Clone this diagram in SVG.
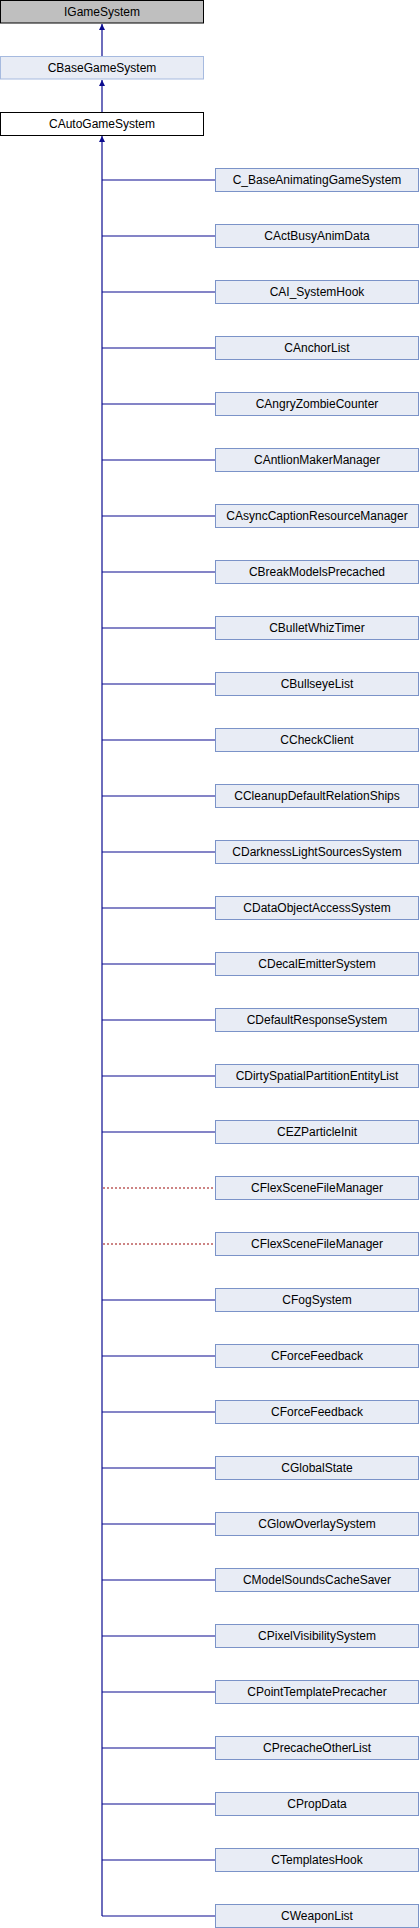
<svg xmlns="http://www.w3.org/2000/svg" width="420" height="1928" viewBox="0 0 420 1928">
<style>
text{font-family:"Liberation Sans",Arial,sans-serif;font-size:12px;fill:#000;text-anchor:middle}
.n{fill:#e8ecf5;stroke:#7b93c8;stroke-width:1}
.base{fill:#e8ecf5;stroke:#a6badf;stroke-width:1}
.top{fill:#bfbfbf;stroke:#000;stroke-width:1}
.auto{fill:#fff;stroke:#000;stroke-width:1}
.e{stroke:#0b0b8f;stroke-width:1.2;fill:none}
.p{stroke:#9b0a0a;stroke-width:1.2;fill:none;stroke-dasharray:2,2}
</style>
<defs>
<marker id="ah" viewBox="0 0 10 10" refX="10" refY="5" markerWidth="6" markerHeight="6" markerUnits="userSpaceOnUse" orient="auto">
<path d="M0,0 L10,5 L0,10 z" fill="#0b0b8f"/>
</marker>
</defs>
<g id="connectors">
<path class="e" d="M102,56 V24" marker-end="url(#ah)"/>
<path class="e" d="M102,112 V80" marker-end="url(#ah)"/>
<path class="e" d="M102,1916 V136" marker-end="url(#ah)"/>
<path class="e" d="M102,180H215M102,236H215M102,292H215M102,348H215M102,404H215M102,460H215M102,516H215M102,572H215M102,628H215M102,684H215M102,740H215M102,796H215M102,852H215M102,908H215M102,964H215M102,1020H215M102,1076H215M102,1132H215M102,1300H215M102,1356H215M102,1412H215M102,1468H215M102,1524H215M102,1580H215M102,1636H215M102,1692H215M102,1748H215M102,1804H215M102,1860H215M102,1916H215"/>
<path class="p" d="M103,1188H215M103,1244H215"/>
</g>
<g id="IGameSystem"><rect class="top" x="0.5" y="0.5" width="203" height="22.5"/><text x="102" y="16">IGameSystem</text></g>
<g id="CBaseGameSystem"><rect class="base" x="0.5" y="56.5" width="203" height="22.5"/><text x="102" y="72">CBaseGameSystem</text></g>
<g id="CAutoGameSystem"><rect class="auto" x="0.5" y="112.5" width="203" height="23"/><text x="102" y="128">CAutoGameSystem</text></g>
<g id="n0"><rect class="n" x="215.5" y="168.5" width="203" height="23"/><text x="317" y="184">C_BaseAnimatingGameSystem</text></g>
<g id="n1"><rect class="n" x="215.5" y="224.5" width="203" height="23"/><text x="317" y="240">CActBusyAnimData</text></g>
<g id="n2"><rect class="n" x="215.5" y="280.5" width="203" height="23"/><text x="317" y="296">CAI_SystemHook</text></g>
<g id="n3"><rect class="n" x="215.5" y="336.5" width="203" height="23"/><text x="317" y="352">CAnchorList</text></g>
<g id="n4"><rect class="n" x="215.5" y="392.5" width="203" height="23"/><text x="317" y="408">CAngryZombieCounter</text></g>
<g id="n5"><rect class="n" x="215.5" y="448.5" width="203" height="23"/><text x="317" y="464">CAntlionMakerManager</text></g>
<g id="n6"><rect class="n" x="215.5" y="504.5" width="203" height="23"/><text x="317" y="520">CAsyncCaptionResourceManager</text></g>
<g id="n7"><rect class="n" x="215.5" y="560.5" width="203" height="23"/><text x="317" y="576">CBreakModelsPrecached</text></g>
<g id="n8"><rect class="n" x="215.5" y="616.5" width="203" height="23"/><text x="317" y="632">CBulletWhizTimer</text></g>
<g id="n9"><rect class="n" x="215.5" y="672.5" width="203" height="23"/><text x="317" y="688">CBullseyeList</text></g>
<g id="n10"><rect class="n" x="215.5" y="728.5" width="203" height="23"/><text x="317" y="744">CCheckClient</text></g>
<g id="n11"><rect class="n" x="215.5" y="784.5" width="203" height="23"/><text x="317" y="800">CCleanupDefaultRelationShips</text></g>
<g id="n12"><rect class="n" x="215.5" y="840.5" width="203" height="23"/><text x="317" y="856">CDarknessLightSourcesSystem</text></g>
<g id="n13"><rect class="n" x="215.5" y="896.5" width="203" height="23"/><text x="317" y="912">CDataObjectAccessSystem</text></g>
<g id="n14"><rect class="n" x="215.5" y="952.5" width="203" height="23"/><text x="317" y="968">CDecalEmitterSystem</text></g>
<g id="n15"><rect class="n" x="215.5" y="1008.5" width="203" height="23"/><text x="317" y="1024">CDefaultResponseSystem</text></g>
<g id="n16"><rect class="n" x="215.5" y="1064.5" width="203" height="23"/><text x="317" y="1080">CDirtySpatialPartitionEntityList</text></g>
<g id="n17"><rect class="n" x="215.5" y="1120.5" width="203" height="23"/><text x="317" y="1136">CEZParticleInit</text></g>
<g id="n18"><rect class="n" x="215.5" y="1176.5" width="203" height="23"/><text x="317" y="1192">CFlexSceneFileManager</text></g>
<g id="n19"><rect class="n" x="215.5" y="1232.5" width="203" height="23"/><text x="317" y="1248">CFlexSceneFileManager</text></g>
<g id="n20"><rect class="n" x="215.5" y="1288.5" width="203" height="23"/><text x="317" y="1304">CFogSystem</text></g>
<g id="n21"><rect class="n" x="215.5" y="1344.5" width="203" height="23"/><text x="317" y="1360">CForceFeedback</text></g>
<g id="n22"><rect class="n" x="215.5" y="1400.5" width="203" height="23"/><text x="317" y="1416">CForceFeedback</text></g>
<g id="n23"><rect class="n" x="215.5" y="1456.5" width="203" height="23"/><text x="317" y="1472">CGlobalState</text></g>
<g id="n24"><rect class="n" x="215.5" y="1512.5" width="203" height="23"/><text x="317" y="1528">CGlowOverlaySystem</text></g>
<g id="n25"><rect class="n" x="215.5" y="1568.5" width="203" height="23"/><text x="317" y="1584">CModelSoundsCacheSaver</text></g>
<g id="n26"><rect class="n" x="215.5" y="1624.5" width="203" height="23"/><text x="317" y="1640">CPixelVisibilitySystem</text></g>
<g id="n27"><rect class="n" x="215.5" y="1680.5" width="203" height="23"/><text x="317" y="1696">CPointTemplatePrecacher</text></g>
<g id="n28"><rect class="n" x="215.5" y="1736.5" width="203" height="23"/><text x="317" y="1752">CPrecacheOtherList</text></g>
<g id="n29"><rect class="n" x="215.5" y="1792.5" width="203" height="23"/><text x="317" y="1808">CPropData</text></g>
<g id="n30"><rect class="n" x="215.5" y="1848.5" width="203" height="23"/><text x="317" y="1864">CTemplatesHook</text></g>
<g id="n31"><rect class="n" x="215.5" y="1904.5" width="203" height="23"/><text x="317" y="1920">CWeaponList</text></g>
</svg>
